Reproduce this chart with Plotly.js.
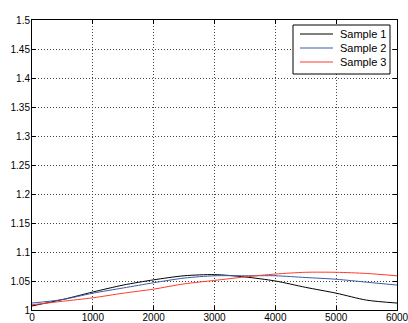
<!DOCTYPE html>
<html>
<head>
<meta charset="utf-8">
<script src="https://cdn.plot.ly/plotly-3.0.1.min.js"></script>
<style>html,body{margin:0;padding:0;background:#fff;}#chart{width:408px;height:323px;}</style>
</head>
<body>
<div id="chart"></div>
<script>
var xValues = [0, 500, 1000, 1500, 2000, 2500, 3000, 3500, 4000, 4500, 5000, 5500, 6000];
var sample1 = [1.007, 1.018, 1.031, 1.043, 1.052, 1.059, 1.061, 1.057, 1.050, 1.039, 1.029, 1.017, 1.012];
var sample2 = [1.012, 1.018, 1.029, 1.038, 1.047, 1.055, 1.059, 1.059, 1.059, 1.056, 1.053, 1.048, 1.043];
var sample3 = [1.009, 1.015, 1.021, 1.029, 1.036, 1.045, 1.051, 1.057, 1.062, 1.065, 1.065, 1.063, 1.059];
var seriesNames = ["Sample 1", "Sample 2", "Sample 3"];
var xTicks = [0, 1000, 2000, 3000, 4000, 5000, 6000];
var yTicks = [1, 1.05, 1.1, 1.15, 1.2, 1.25, 1.3, 1.35, 1.4, 1.45, 1.5];
var yTickText = ["1", "1.05", "1.1", "1.15", "1.2", "1.25", "1.3", "1.35", "1.4", "1.45", "1.5"];

var colors = ["#000000", "#3a5aa8", "#ff3a2a"];
var ys = [sample1, sample2, sample3];
var traces = ys.map(function (y, i) {
  return {
    x: xValues, y: y, name: seriesNames[i], type: "scatter", mode: "lines",
    line: {color: colors[i], width: 1, shape: "spline", smoothing: 0.8},
    showlegend: false
  };
});

var FONT = "Liberation Sans, Arial, Helvetica, sans-serif";
var axisCommon = {
  showline: true, linecolor: "#000", linewidth: 1, mirror: "ticks",
  ticks: "inside", ticklen: 4, tickcolor: "#000",
  showgrid: true, gridcolor: "#444", griddash: "1px,2px", gridwidth: 1,
  zeroline: false, ticklabeloverflow: "allow",
  tickfont: {family: FONT, size: 10, color: "#000"}
};

// plot area geometry (pixels) for the hand-built legend box
var W = 408, H = 323, ML = 32, MR = 11, MT = 20, MB = 13;
var PW = W - ML - MR, PH = H - MT - MB;
function fx(px) { return (px - ML) / PW; }
function fy(py) { return (H - MB - py) / PH; }

var shapes = [{
  type: "rect", xref: "paper", yref: "paper",
  x0: fx(293), x1: fx(390), y0: fy(74), y1: fy(25),
  line: {color: "#000", width: 1}, fillcolor: "#fff", layer: "above"
}];
var annotations = [];
seriesNames.forEach(function (name, i) {
  var py = 34 + i * 14;
  shapes.push({
    type: "line", xref: "paper", yref: "paper",
    x0: fx(300), x1: fx(333), y0: fy(py), y1: fy(py),
    line: {color: colors[i], width: 1}, layer: "above"
  });
  annotations.push({
    xref: "paper", yref: "paper", x: fx(338), y: fy(py),
    xanchor: "left", yanchor: "middle", showarrow: false,
    text: name, font: {family: FONT, size: 11, color: "#000"}
  });
});

var layout = {
  width: W, height: H,
  margin: {l: ML, r: MR, t: MT, b: MB},
  paper_bgcolor: "#fff", plot_bgcolor: "#fff",
  showlegend: false,
  font: {family: FONT, size: 10, color: "#000"},
  xaxis: Object.assign({}, axisCommon, {range: [0, 6000], tickvals: xTicks, ticktext: xTicks.map(String), ticklabelstandoff: -2}),
  yaxis: Object.assign({}, axisCommon, {range: [1, 1.5], tickvals: yTicks, ticktext: yTickText, ticklabelstandoff: -1}),
  shapes: shapes,
  annotations: annotations
};

Plotly.newPlot("chart", traces, layout, {displayModeBar: false, staticPlot: true});
</script>
</body>
</html>
